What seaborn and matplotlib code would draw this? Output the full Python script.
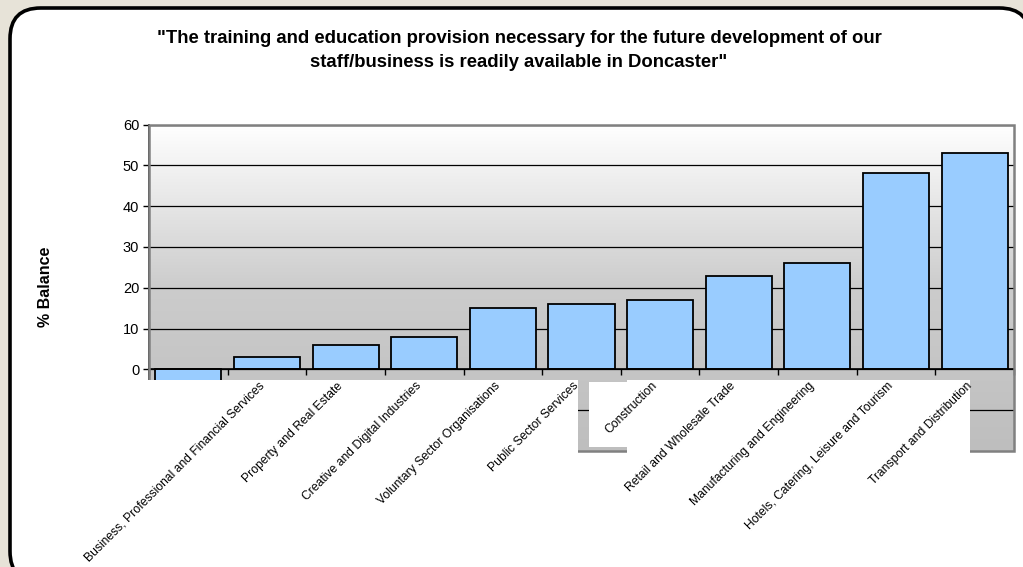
import numpy as np
import pandas as pd
import matplotlib
matplotlib.use("Agg")
import matplotlib.pyplot as plt
from matplotlib.patches import Rectangle, FancyBboxPatch
import seaborn as sns

# ---- data ----
sectors = [
    "",
    "Business, Professional and Financial Services",
    "Property and Real Estate",
    "Creative and Digital Industries",
    "Voluntary Sector Organisations",
    "Public Sector Services",
    "Construction",
    "Retail and Wholesale Trade",
    "Manufacturing and Engineering",
    "Hotels, Catering, Leisure and Tourism",
    "Transport and Distribution",
]
balance = [-5, 3, 6, 8, 15, 16, 17, 23, 26, 48, 53]
ytick_values = [-10, 0, 10, 20, 30, 40, 50, 60]
ytick_labels = ["", "0", "10", "20", "30", "40", "50", "60"]
title_text = ('"The training and education provision necessary for the future development of our\n'
              'staff/business is readily available in Doncaster"')
ylabel_text = "% Balance"

df = pd.DataFrame({"pos": [f"s{i}" for i in range(len(sectors))], "balance": balance})

sns.set_theme(style="white")
plt.rcParams["font.family"] = ["Liberation Sans", "DejaVu Sans"]
plt.rcParams["text.color"] = "black"

W, H = 1023, 567
fig = plt.figure(figsize=(W / 100, H / 100), dpi=100)
fig.patch.set_facecolor("#E7E3D8")

def fx(px):
    return px / W

def fy(py):
    return 1 - py / H

# rounded white panel
panel = FancyBboxPatch((fx(10), fy(582)), fx(1030) - fx(10), fy(8) - fy(582),
                       boxstyle="round,pad=0,rounding_size=0.03", transform=fig.transFigure,
                       facecolor="white", edgecolor="black", linewidth=2.6, zorder=-5,
                       mutation_aspect=W / H)
fig.patches.append(panel)

ax = fig.add_axes([fx(149), fy(451), fx(1014) - fx(149), fy(124.5) - fy(451)])
ax.set_zorder(2)
ax.set_facecolor("none")
ax.set_axisbelow(True)

sns.barplot(data=df, x="pos", y="balance", color="#99CCFF", saturation=1,
            edgecolor="black", linewidth=1.3, width=0.84, ax=ax, zorder=2)

n = len(sectors)
ax.set_xlim(-0.5, n - 0.5)
ax.set_ylim(-20, 60)

# gradient plot-area background
grad = np.linspace(0, 1, 256).reshape(-1, 1)
ax.imshow(grad, extent=(-0.5, n - 0.5, -20, 60), origin="lower", aspect="auto",
          cmap=matplotlib.colors.LinearSegmentedColormap.from_list("g", ["#BEBEBE", "#CCCCCC", "#FFFFFF"]),
          zorder=-1)

ax.set_yticks(ytick_values)
ax.set_yticklabels(ytick_labels, fontsize=10.5, color="black")
ax.yaxis.grid(True, color="black", linewidth=0.9)
ax.tick_params(axis="y", direction="out", length=4, width=1, color="black", pad=3, left=True)

ax.set_xticks([])
ax.set_xticks(np.arange(-0.5, n, 1.0), minor=True)
ax.tick_params(axis="x", which="minor", direction="out", length=4, width=1, color="black", bottom=True)
ax.set_xlabel("")
ax.set_ylabel("")

for s in ["top", "right"]:
    ax.spines[s].set_visible(False)
ax.spines["left"].set_color("black")
ax.spines["left"].set_linewidth(1.2)
ax.spines["bottom"].set_position(("data", 0))
ax.spines["bottom"].set_color("black")
ax.spines["bottom"].set_linewidth(1.2)

# plot-area border
ax.add_patch(Rectangle((0, 0), 1, 1, transform=ax.transAxes, fill=False,
                       edgecolor="#808080", linewidth=1.8, zorder=2.6, clip_on=False))

# white occluding blocks seen under the axis in the reference
for (x0, y0, x1, y1) in [(138, 380, 578, 458), (589, 382, 627, 447), (627, 380, 970, 458)]:
    ax.add_patch(Rectangle((fx(x0), fy(y1)), fx(x1) - fx(x0), fy(y0) - fy(y1),
                           transform=fig.transFigure, facecolor="white", edgecolor="none",
                           zorder=3, clip_on=False))

# rotated category labels
for i, lab in enumerate(sectors):
    ax.text(i - 0.06, -3.6, lab, rotation=45, rotation_mode="anchor", ha="right", va="center",
            fontsize=8.7, color="black", zorder=4, clip_on=False)

fig.text(fx(519), fy(50.5), title_text, ha="center", va="center", fontsize=13.3,
         fontweight="bold", linespacing=1.55, color="black")
fig.text(fx(45), fy(287), ylabel_text, rotation=90, ha="center", va="center",
         fontsize=11.5, fontweight="bold", color="black")

fig.savefig("out.png", dpi=100, facecolor=fig.get_facecolor())
